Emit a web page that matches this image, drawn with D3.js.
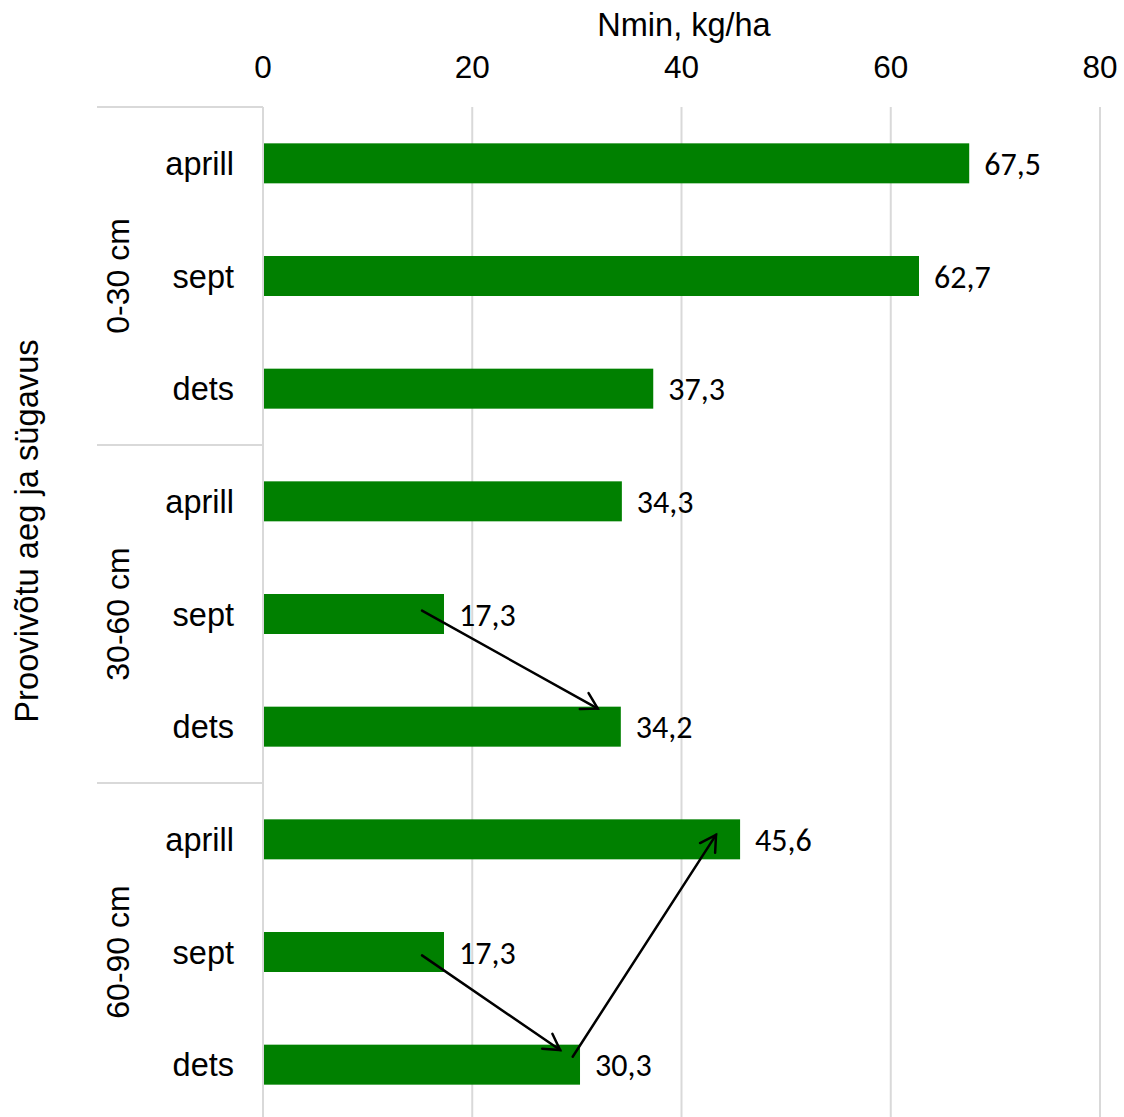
<!DOCTYPE html>
<html>
<head>
<meta charset="utf-8">
<script src="https://cdn.jsdelivr.net/npm/d3@7"></script>
<style>
  html, body { margin: 0; padding: 0; background: #fff; }
  svg { display: block; }
</style>
</head>
<body>
<svg id="chart" width="1124" height="1117"></svg>
<script>
// Depth groups and sampling times
const groups = ["0-30 cm", "30-60 cm", "60-90 cm"];
const months = ["aprill", "sept", "dets"];
// Nmin values (kg/ha), one array per depth, in month order
const values030 = [67.5, 62.7, 37.3];
const values3060 = [34.3, 17.3, 34.2];
const values6090 = [45.6, 17.3, 30.3];
const xTicks = [0, 20, 40, 60, 80];
// Annotation arrows: [value, row position] from -> to (row positions in row units from top)
const arrowFrom = [[15.2, 4.47], [15.2, 7.53], [29.6, 8.43]];
const arrowTo   = [[32.0, 5.34], [28.4, 8.37], [43.3, 6.46]];

const allValues = [values030, values3060, values6090];
const rows = [];
groups.forEach((g, gi) => months.forEach((m, mi) => {
  rows.push({ key: g + "|" + m, group: g, month: m, value: allValues[gi][mi] });
}));

const svg = d3.select("#chart");
const plotLeft = 263, plotRight = 1100, plotTop = 107, plotBottom = 1121;
const labelFont = "'Liberation Sans', Arial, sans-serif";
const valueFont = "Carlito, Calibri, 'Open Sans', sans-serif";

const x = d3.scaleLinear().domain([0, 80]).range([plotLeft, plotRight]);
const y = d3.scaleBand().domain(rows.map(d => d.key)).range([plotTop, plotBottom]).paddingInner(0.645).paddingOuter(0.3225);
const yRow = d3.scaleLinear().domain([0, rows.length]).range([plotTop, plotBottom]);

// vertical gridlines
svg.append("g").selectAll("line").data(xTicks).join("line")
  .attr("x1", d => x(d)).attr("x2", d => x(d))
  .attr("y1", plotTop).attr("y2", plotBottom)
  .attr("stroke", "#d9d9d9").attr("stroke-width", 2);

// top axis tick labels
svg.append("g").selectAll("text").data(xTicks).join("text")
  .attr("x", d => x(d)).attr("y", 78)
  .attr("text-anchor", "middle")
  .attr("font-family", labelFont).attr("font-size", 31.5).attr("fill", "#000")
  .text(d => d);

// axis title
svg.append("text")
  .attr("x", 684).attr("y", 36)
  .attr("text-anchor", "middle")
  .attr("font-family", labelFont).attr("font-size", 32.5).attr("fill", "#000")
  .text("Nmin, kg/ha");

// group separators on the category axis
const groupBounds = groups.map((g, i) => yRow(i * months.length));
svg.append("g").selectAll("line").data(groupBounds).join("line")
  .attr("x1", 97).attr("x2", plotLeft)
  .attr("y1", d => d).attr("y2", d => d)
  .attr("stroke", "#d9d9d9").attr("stroke-width", 2);

// bars
svg.append("g").selectAll("rect").data(rows).join("rect")
  .attr("x", x(0) + 1)
  .attr("y", d => y(d.key))
  .attr("width", d => x(d.value) - x(0) - 1)
  .attr("height", y.bandwidth())
  .attr("fill", "#008000");

// value labels
svg.append("g").selectAll("text").data(rows).join("text")
  .attr("x", d => x(d.value) + 15)
  .attr("y", d => y(d.key) + y.bandwidth() / 2)
  .attr("dy", "0.36em")
  .attr("font-family", valueFont).attr("font-size", 32).attr("fill", "#000")
  .text(d => d3.format(".1f")(d.value).replace(".", ","));

// month labels
svg.append("g").selectAll("text").data(rows).join("text")
  .attr("x", 234)
  .attr("y", d => y(d.key) + y.bandwidth() / 2)
  .attr("dy", "0.36em")
  .attr("text-anchor", "end")
  .attr("font-family", labelFont).attr("font-size", 32.5).attr("fill", "#000")
  .text(d => d.month);

// depth group labels (rotated)
svg.append("g").selectAll("text").data(groups).join("text")
  .attr("transform", (g, i) => `translate(129,${yRow(i * months.length + 1.5)}) rotate(-90)`)
  .attr("text-anchor", "middle")
  .attr("font-family", labelFont).attr("font-size", 32).attr("fill", "#000")
  .text(d => d);

// category axis title
svg.append("text")
  .attr("transform", "translate(38,531) rotate(-90)")
  .attr("text-anchor", "middle")
  .attr("font-family", labelFont).attr("font-size", 32.7).attr("fill", "#000")
  .text("Proovivõtu aeg ja sügavus");

// annotation arrows with open heads
const arrows = arrowFrom.map((f, i) => ({ x1: x(f[0]), y1: yRow(f[1]), x2: x(arrowTo[i][0]), y2: yRow(arrowTo[i][1]) }));
const ag = svg.append("g").attr("stroke", "#000").attr("stroke-width", 2.5).attr("fill", "none").attr("stroke-linecap", "round");
arrows.forEach(a => {
  ag.append("line").attr("x1", a.x1).attr("y1", a.y1).attr("x2", a.x2).attr("y2", a.y2);
  const ang = Math.atan2(a.y2 - a.y1, a.x2 - a.x1);
  const len = 18, spread = Math.PI / 6;
  const p1 = [a.x2 - len * Math.cos(ang - spread), a.y2 - len * Math.sin(ang - spread)];
  const p2 = [a.x2 - len * Math.cos(ang + spread), a.y2 - len * Math.sin(ang + spread)];
  ag.append("path").attr("d", `M${p1[0]},${p1[1]}L${a.x2},${a.y2}L${p2[0]},${p2[1]}`);
});
</script>
</body>
</html>
